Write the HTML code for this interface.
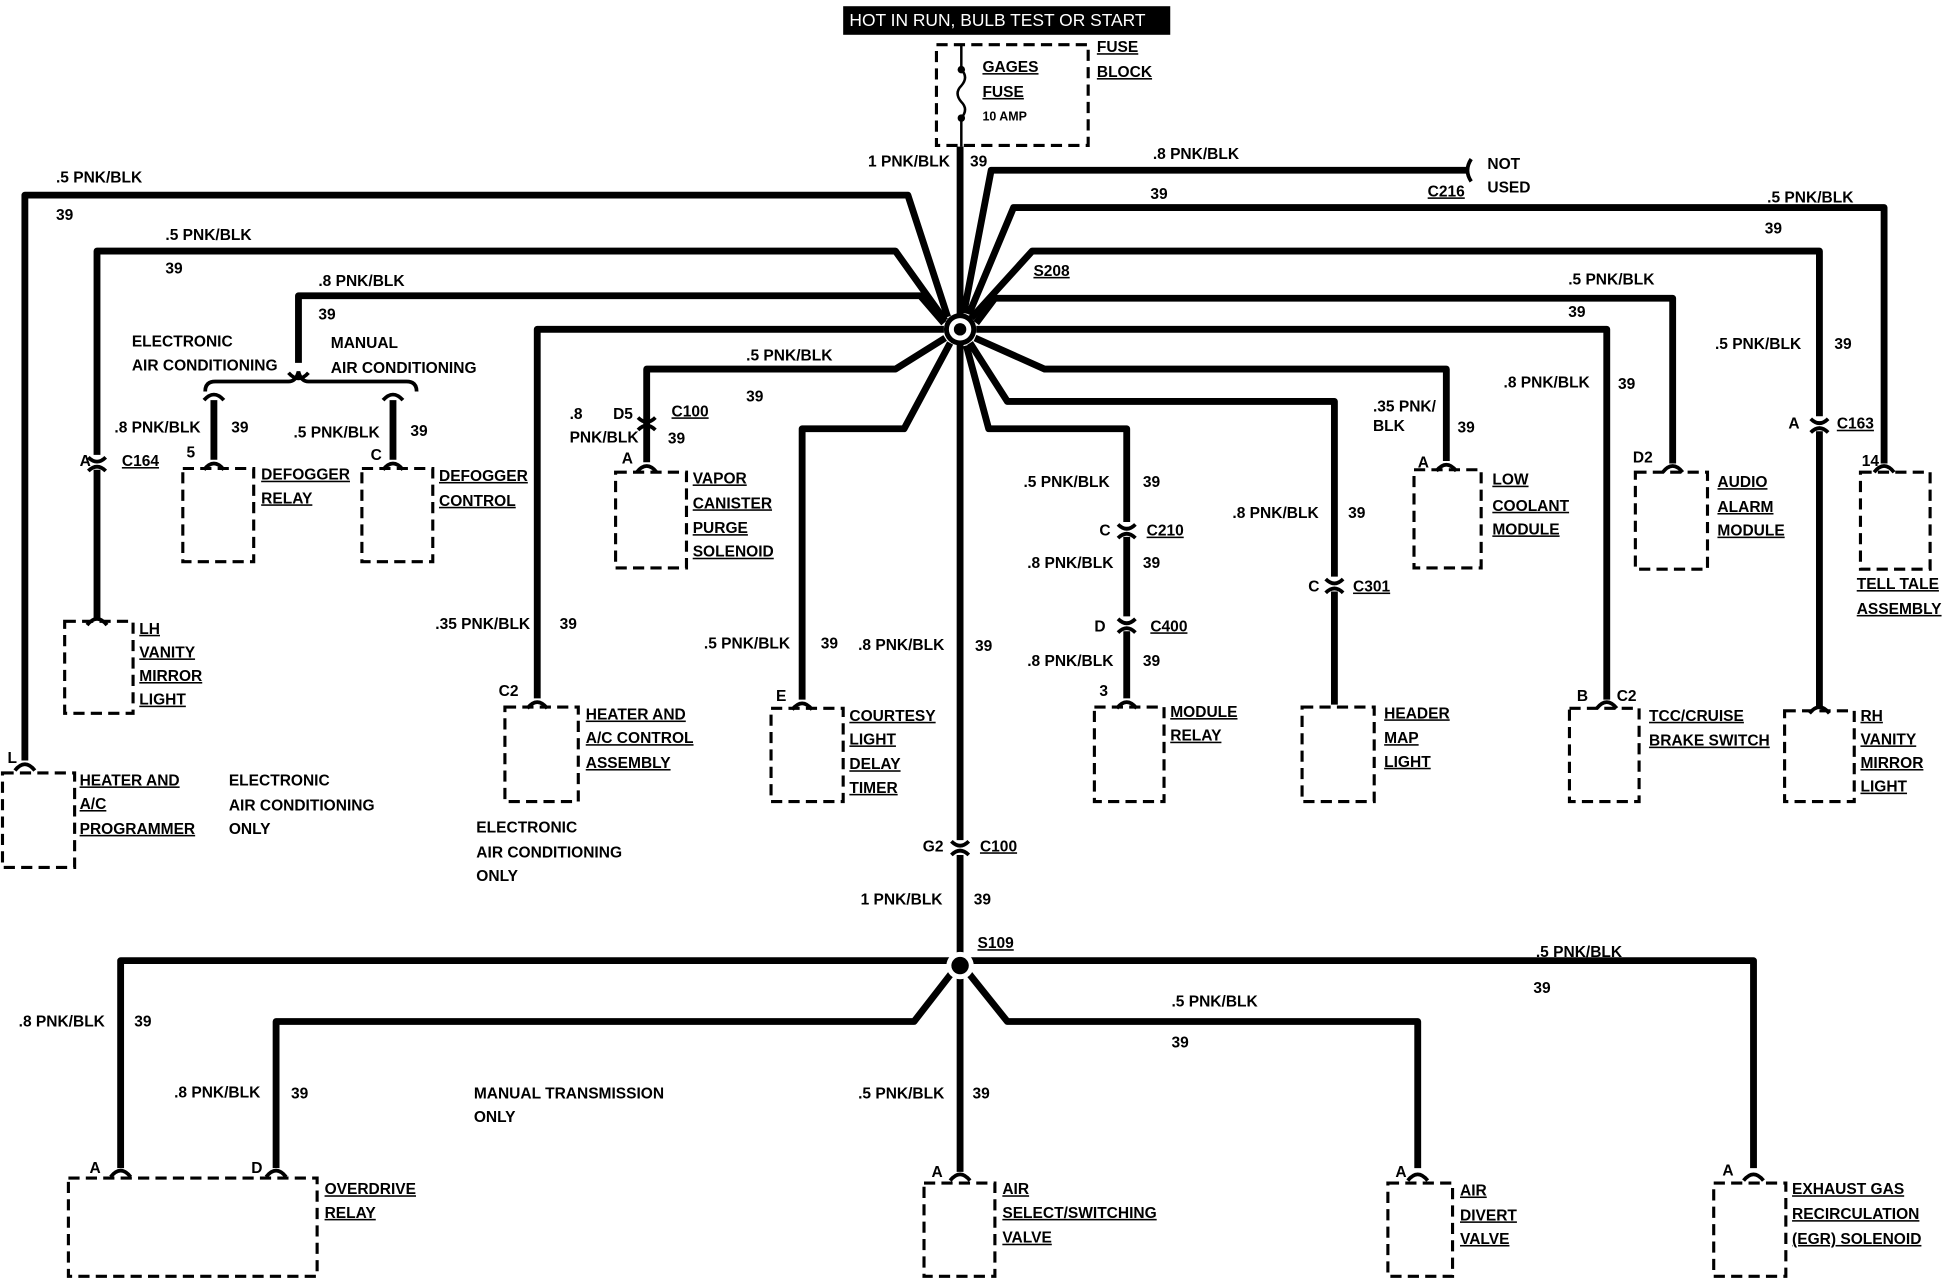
<!DOCTYPE html>
<html><head><meta charset="utf-8"><style>
html,body{margin:0;padding:0;background:#fff;}
svg{display:block;}
text{font-family:"Liberation Sans",sans-serif;font-weight:bold;font-size:12.5px;fill:#000;}
.u{text-decoration:underline;}
.w{fill:none;stroke:#000;stroke-width:5.5;stroke-linejoin:round;}
.b{fill:none;stroke:#000;stroke-width:2.5;stroke-dasharray:9,5;}
.c{fill:none;stroke:#000;stroke-width:3;}
</style></head><body>
<svg width="1950" height="1280" viewBox="0 0 1568 1030" preserveAspectRatio="none" xmlns="http://www.w3.org/2000/svg">
<rect width="1568" height="1030" fill="#fff"/>
<rect x="678" y="5" width="263" height="23" fill="#000"/>
<text x="683" y="21" style="fill:#fff;font-weight:normal;font-size:14px">HOT IN RUN, BULB TEST OR START</text>
<rect x="753" y="36" width="122" height="81" class="b"/>
<line x1="773" y1="36" x2="773" y2="56" stroke="#000" stroke-width="2"/>
<circle cx="773" cy="56" r="3"/><circle cx="773" cy="95" r="3"/>
<path d="M773,56 q6,6 0,13 q-6,6 0,13 q6,6 0,13" fill="none" stroke="#000" stroke-width="2"/>
<line x1="773" y1="95" x2="773" y2="118" stroke="#000" stroke-width="2"/>
<text x="790" y="58" class="u">GAGES</text><text x="790" y="78" class="u">FUSE</text>
<text x="790" y="97" style="font-size:10px">10 AMP</text>
<text x="882" y="42" class="u">FUSE</text><text x="882" y="62" class="u">BLOCK</text>

<path class="w" d="M772,118 V676"/><path class="w" d="M772,688 V777"/>
<text x="698" y="134">1 PNK/BLK</text><text x="780" y="134">39</text>
<circle cx="772" cy="265" r="13" fill="#000"/><circle cx="772" cy="265" r="9" fill="#fff"/><circle cx="772" cy="265" r="5" fill="#000"/>

<path class="w" d="M762,255 L730,157 H20 V612"/>
<path class="w" d="M760,258 L720,202 H78 V366"/><path class="w" d="M78,378 V498"/>
<path class="w" d="M759,260 L740,238 H240 V292"/>
<path class="w" d="M759,265 H432 V562"/>
<path class="w" d="M760,272 L720,297 H520 V372"/>
<path class="w" d="M764,276 L727,345 H645 V563"/>
<path class="w" d="M775,252 L797,137 H1180"/>
<path class="w" d="M779,253 L815,167 H1515 V373"/>
<path class="w" d="M781,256 L830,202 H1463 V335"/><path class="w" d="M1463,347 V570"/>
<path class="w" d="M785,260 L800,240 H1345 V373"/>
<path class="w" d="M785,265 H1292 V563"/>
<path class="w" d="M784,272 L840,297 H1163 V371"/>
<path class="w" d="M780,276 L810,323 H1073 V464"/><path class="w" d="M1073,476 V567"/>
<path class="w" d="M777,278 L795,345 H906 V420"/><path class="w" d="M906,432 V496"/><path class="w" d="M906,508 V562"/>

<path d="M165,315 q0,-8 8,-8 H232 q6,0 8,-8 q2,8 8,8 H327 q8,0 8,8" fill="none" stroke="#000" stroke-width="3"/>
<path class="c" d="M232,300 q8,9 16,0"/>
<path class="w" d="M172,322 V370"/><path class="w" d="M316,322 V370"/>
<path class="c" d="M164,322 q8,-9 16,0"/><path class="c" d="M308,322 q8,-9 16,0"/>

<path class="w" d="M765,773 H97 V940"/>
<path class="w" d="M766,782 L735,822 H222 V940"/>
<path class="w" d="M772,785 V943"/>
<path class="w" d="M779,773 H1410 V940"/>
<path class="w" d="M778,782 L810,822 H1140 V940"/>
<circle cx="772" cy="777" r="11" fill="#fff"/><circle cx="772" cy="777" r="7" fill="#000"/>

<g class="c">
<path d="M71,368 q7,7 14,0"/><path d="M71,379 q7,-7 14,0"/>
<path d="M1456,337 q7,7 14,0"/><path d="M1456,348 q7,-7 14,0"/>
<path d="M899,422 q7,7 14,0"/><path d="M899,433 q7,-7 14,0"/>
<path d="M899,498 q7,7 14,0"/><path d="M899,509 q7,-7 14,0"/>
<path d="M1066,466 q7,7 14,0"/><path d="M1066,477 q7,-7 14,0"/>
<path d="M765,677 q7,7 14,0"/><path d="M765,688 q7,-7 14,0"/>
<path d="M513,336 q7,7 14,0"/><path d="M513,346 q7,-7 14,0"/>
</g>
<g class="c">
<path d="M12,620 q8,-10 16,0"/><path d="M70,503 q8,-10 16,0"/><path d="M164,378 q8,-10 16,0"/><path d="M308,378 q8,-10 16,0"/>
<path d="M424,570 q8,-10 16,0"/><path d="M512,380 q8,-10 16,0"/><path d="M637,571 q8,-10 16,0"/><path d="M898,570 q8,-10 16,0"/>
<path d="M1155,379 q8,-10 16,0"/><path d="M1284,570 q8,-10 16,0"/><path d="M1337,380 q8,-10 16,0"/><path d="M1455,574 q8,-10 16,0"/><path d="M1507,380 q8,-10 16,0"/>
<path d="M89,947 q8,-10 16,0"/><path d="M214,947 q8,-10 16,0"/><path d="M764,950 q8,-10 16,0"/><path d="M1132,950 q8,-10 16,0"/><path d="M1402,950 q8,-10 16,0"/>
</g>
<path class="c" d="M1183,128 q-6,9 0,18"/>

<g class="b">
<rect x="2" y="622" width="58" height="76"/>
<rect x="52" y="500" width="55" height="74"/>
<rect x="147" y="377" width="57" height="75"/>
<rect x="291" y="377" width="57" height="75"/>
<rect x="406" y="569" width="59" height="76"/>
<rect x="495" y="380" width="57" height="77"/>
<rect x="620" y="570" width="58" height="75"/>
<rect x="880" y="569" width="56" height="76"/>
<rect x="1047" y="569" width="58" height="76"/>
<rect x="1137" y="378" width="54" height="79"/>
<rect x="1262" y="570" width="56" height="75"/>
<rect x="1315" y="380" width="58" height="78"/>
<rect x="1435" y="572" width="56" height="73"/>
<rect x="1496" y="380" width="56" height="78"/>
<rect x="55" y="948" width="200" height="79"/>
<rect x="743" y="952" width="57" height="75"/>
<rect x="1116" y="952" width="52" height="75"/>
<rect x="1378" y="952" width="58" height="75"/>
</g>

<text x="45" y="147">.5 PNK/BLK</text><text x="45" y="177">39</text>
<text x="133" y="193">.5 PNK/BLK</text><text x="133" y="220">39</text>
<text x="256" y="230">.8 PNK/BLK</text><text x="256" y="257">39</text>
<text x="106" y="279">ELECTRONIC</text><text x="106" y="298">AIR CONDITIONING</text>
<text x="266" y="280">MANUAL</text><text x="266" y="300">AIR CONDITIONING</text>
<text x="92" y="348">.8 PNK/BLK</text><text x="186" y="348">39</text>
<text x="236" y="352">.5 PNK/BLK</text><text x="330" y="351">39</text>
<text x="64" y="375">A</text><text x="98" y="375" class="u">C164</text>
<text x="150" y="368">5</text><text x="298" y="370">C</text>
<text x="210" y="386" class="u">DEFOGGER</text><text x="210" y="405" class="u">RELAY</text>
<text x="353" y="387" class="u">DEFOGGER</text><text x="353" y="407" class="u">CONTROL</text>
<text x="112" y="510" class="u">LH</text><text x="112" y="529" class="u">VANITY</text><text x="112" y="548" class="u">MIRROR</text><text x="112" y="567" class="u">LIGHT</text>
<text x="6" y="614">L</text>
<text x="64" y="632" class="u">HEATER AND</text><text x="64" y="651" class="u">A/C</text><text x="64" y="671" class="u">PROGRAMMER</text>
<text x="184" y="632">ELECTRONIC</text><text x="184" y="652">AIR CONDITIONING</text><text x="184" y="671">ONLY</text>
<text x="600" y="290">.5 PNK/BLK</text><text x="600" y="323">39</text>
<text x="458" y="337">.8</text><text x="458" y="356">PNK/BLK</text>
<text x="493" y="337">D5</text><text x="540" y="335" class="u">C100</text><text x="537" y="357">39</text>
<text x="500" y="373">A</text>
<text x="557" y="389" class="u">VAPOR</text><text x="557" y="409" class="u">CANISTER</text><text x="557" y="429" class="u">PURGE</text><text x="557" y="448" class="u">SOLENOID</text>
<text x="350" y="506">.35 PNK/BLK</text><text x="450" y="506">39</text>
<text x="401" y="560">C2</text>
<text x="471" y="579" class="u">HEATER AND</text><text x="471" y="598" class="u">A/C CONTROL</text><text x="471" y="618" class="u">ASSEMBLY</text>
<text x="383" y="670">ELECTRONIC</text><text x="383" y="690">AIR CONDITIONING</text><text x="383" y="709">ONLY</text>
<text x="566" y="522">.5 PNK/BLK</text><text x="660" y="522">39</text>
<text x="624" y="564">E</text>
<text x="683" y="580" class="u">COURTESY</text><text x="683" y="599" class="u">LIGHT</text><text x="683" y="619" class="u">DELAY</text><text x="683" y="638" class="u">TIMER</text>
<text x="690" y="523">.8 PNK/BLK</text><text x="784" y="524">39</text>
<text x="742" y="685">G2</text><text x="788" y="685" class="u">C100</text>
<text x="692" y="728">1 PNK/BLK</text><text x="783" y="728">39</text>
<text x="786" y="763" class="u">S109</text>
<text x="927" y="128">.8 PNK/BLK</text><text x="925" y="160">39</text>
<text x="1148" y="158" class="u">C216</text>
<text x="1196" y="136">NOT</text><text x="1196" y="155">USED</text>
<text x="1421" y="163">.5 PNK/BLK</text><text x="1419" y="188">39</text>
<text x="831" y="222" class="u">S208</text>
<text x="1261" y="229">.5 PNK/BLK</text><text x="1261" y="255">39</text>
<text x="1379" y="281">.5 PNK/BLK</text><text x="1475" y="281">39</text>
<text x="1209" y="312">.8 PNK/BLK</text><text x="1301" y="313">39</text>
<text x="1104" y="331">.35 PNK/</text><text x="1104" y="347">BLK</text><text x="1172" y="348">39</text>
<text x="1438" y="345">A</text><text x="1477" y="345" class="u">C163</text>
<text x="1140" y="376">A</text><text x="1313" y="372">D2</text><text x="1497" y="375">14</text>
<text x="1200" y="390" class="u">LOW</text><text x="1200" y="411" class="u">COOLANT</text><text x="1200" y="430" class="u">MODULE</text>
<text x="1381" y="392" class="u">AUDIO</text><text x="1381" y="412" class="u">ALARM</text><text x="1381" y="431" class="u">MODULE</text>
<text x="1493" y="474" class="u">TELL TALE</text><text x="1493" y="494" class="u">ASSEMBLY</text>
<text x="823" y="392">.5 PNK/BLK</text><text x="919" y="392">39</text>
<text x="884" y="431">C</text><text x="922" y="431" class="u">C210</text>
<text x="826" y="457">.8 PNK/BLK</text><text x="919" y="457">39</text>
<text x="880" y="508">D</text><text x="925" y="508" class="u">C400</text>
<text x="826" y="536">.8 PNK/BLK</text><text x="919" y="536">39</text>
<text x="884" y="560">3</text>
<text x="941" y="577" class="u">MODULE</text><text x="941" y="596" class="u">RELAY</text>
<text x="991" y="417">.8 PNK/BLK</text><text x="1084" y="417">39</text>
<text x="1052" y="476">C</text><text x="1088" y="476" class="u">C301</text>
<text x="1113" y="578" class="u">HEADER</text><text x="1113" y="598" class="u">MAP</text><text x="1113" y="617" class="u">LIGHT</text>
<text x="1268" y="564">B</text><text x="1300" y="564">C2</text>
<text x="1326" y="580" class="u">TCC/CRUISE</text><text x="1326" y="600" class="u">BRAKE SWITCH</text>
<text x="1496" y="580" class="u">RH</text><text x="1496" y="599" class="u">VANITY</text><text x="1496" y="618" class="u">MIRROR</text><text x="1496" y="637" class="u">LIGHT</text>
<text x="1235" y="770">.5 PNK/BLK</text><text x="1233" y="799">39</text>
<text x="942" y="810">.5 PNK/BLK</text><text x="942" y="843">39</text>
<text x="15" y="826">.8 PNK/BLK</text><text x="108" y="826">39</text>
<text x="140" y="883">.8 PNK/BLK</text><text x="234" y="884">39</text>
<text x="381" y="884">MANUAL TRANSMISSION</text><text x="381" y="903">ONLY</text>
<text x="690" y="884">.5 PNK/BLK</text><text x="782" y="884">39</text>
<text x="72" y="944">A</text><text x="202" y="944">D</text>
<text x="261" y="961" class="u">OVERDRIVE</text><text x="261" y="980" class="u">RELAY</text>
<text x="749" y="947">A</text>
<text x="806" y="961" class="u">AIR</text><text x="806" y="980" class="u">SELECT/SWITCHING</text><text x="806" y="1000" class="u">VALVE</text>
<text x="1122" y="947">A</text>
<text x="1174" y="962" class="u">AIR</text><text x="1174" y="982" class="u">DIVERT</text><text x="1174" y="1001" class="u">VALVE</text>
<text x="1385" y="946">A</text>
<text x="1441" y="961" class="u">EXHAUST GAS</text><text x="1441" y="981" class="u">RECIRCULATION</text><text x="1441" y="1001" class="u">(EGR) SOLENOID</text>
</svg>
</body></html>
